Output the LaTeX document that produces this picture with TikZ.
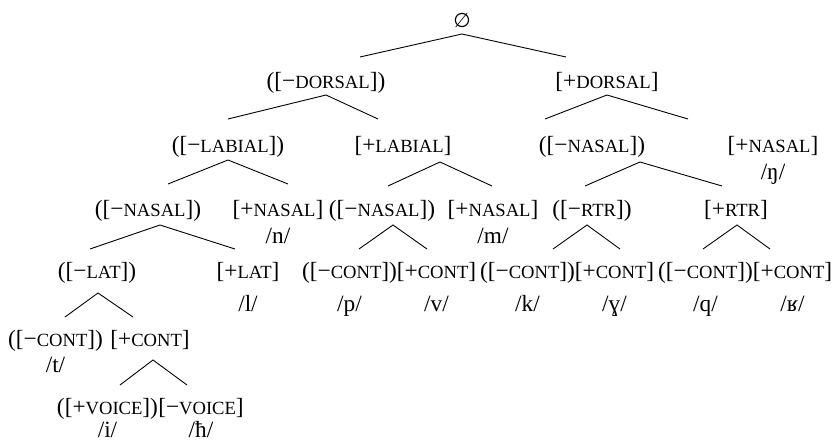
\documentclass[tikz,border=0pt]{standalone}
\usepackage{fontspec}
\setmainfont{Liberation Serif}
\newfontfamily\symf{DejaVu Sans}
\newcommand\fsc[1]{{\fontsize{18.6pt}{20pt}\selectfont #1}}
\begin{document}
\begin{tikzpicture}[x=1pt,y=-1pt,
  lbl/.style={anchor=base,inner sep=0pt,font=\fontsize{23.3pt}{28pt}\selectfont},
  br/.style={line width=0.9pt}]
\useasboundingbox (0,0) rectangle (836,442);
% labels (base = visual centre + 6)
\node[lbl] (root) at (462,27) {{\symf\fontsize{20pt}{22pt}\selectfont ∅}};
\node[lbl] (d1) at (326,88) {([−\fsc{DORSAL}])};
\node[lbl] (d2) at (607,88) {[+\fsc{DORSAL}]};
\node[lbl] (l1) at (228,152) {([−\fsc{LABIAL}])};
\node[lbl] (l2) at (403,152) {[+\fsc{LABIAL}]};
\node[lbl] (n3) at (592,152) {([−\fsc{NASAL}])};
\node[lbl] (n4) at (773,152) {[+\fsc{NASAL}]};
\node[lbl] (n4p) at (773,179) {/ŋ/};
\node[lbl] (n1) at (148,216) {([−\fsc{NASAL}])};
\node[lbl] (n2) at (278,216) {[+\fsc{NASAL}]};
\node[lbl] (n2p) at (278,243) {/n/};
\node[lbl] (n5) at (382,216) {([−\fsc{NASAL}])};
\node[lbl] (n6) at (493,216) {[+\fsc{NASAL}]};
\node[lbl] (n6p) at (493,243) {/m/};
\node[lbl] (r1) at (592,216) {([−\fsc{RTR}])};
\node[lbl] (r2) at (736,216) {[+\fsc{RTR}]};
\node[lbl] (t1) at (97,278) {([−\fsc{LAT}])};
\node[lbl] (t2) at (248,278) {[+\fsc{LAT}]};
\node[lbl] (t2p) at (248,311) {/l/};
\node[lbl] (c3) at (349.5,278) {([−\fsc{CONT}])};
\node[lbl] (c3p) at (349.5,311) {/p/};
\node[lbl] (c4) at (436.5,278) {[+\fsc{CONT}]};
\node[lbl] (c4p) at (436.5,311) {/v/};
\node[lbl] (c5) at (527.5,278) {([−\fsc{CONT}])};
\node[lbl] (c5p) at (527.5,311) {/k/};
\node[lbl] (c6) at (614.5,278) {[+\fsc{CONT}]};
\node[lbl] (c6p) at (614.5,311) {/ɣ/};
\node[lbl] (c7) at (705.5,278) {([−\fsc{CONT}])};
\node[lbl] (c7p) at (705.5,311) {/q/};
\node[lbl] (c8) at (792.5,278) {[+\fsc{CONT}]};
\node[lbl] (c8p) at (792.5,311) {/ʁ/};
\node[lbl] (c1) at (55.5,346) {([−\fsc{CONT}])};
\node[lbl] (c1p) at (55.5,372) {/t/};
\node[lbl] (c2) at (150,346) {[+\fsc{CONT}]};
\node[lbl] (v1) at (107.5,414) {([+\fsc{VOICE}])};
\node[lbl] (v1p) at (107.5,437) {/i/};
\node[lbl] (v2) at (201,414) {[−\fsc{VOICE}]};
\node[lbl] (v2p) at (201,437) {/ħ/};
% branch points
\coordinate (root-a) at (462,34); \coordinate (root-l) at (360,57); \coordinate (root-r) at (566,57);
\coordinate (d1-a) at (326,95); \coordinate (d1-l) at (228,119); \coordinate (d1-r) at (378,119);
\coordinate (d2-a) at (607,95); \coordinate (d2-l) at (545,119); \coordinate (d2-r) at (688,119);
\coordinate (l1-a) at (228,160); \coordinate (l1-l) at (168,184); \coordinate (l1-r) at (288,184);
\coordinate (l2-a) at (440,162); \coordinate (l2-l) at (388,186); \coordinate (l2-r) at (492,186);
\coordinate (n3-a) at (640,162); \coordinate (n3-l) at (585,186); \coordinate (n3-r) at (722,186);
\coordinate (n1-a) at (160,225); \coordinate (n1-l) at (90,249); \coordinate (n1-r) at (235,249);
\coordinate (n5-a) at (393,225); \coordinate (n5-l) at (359,249); \coordinate (n5-r) at (427,249);
\coordinate (r1-a) at (587,225); \coordinate (r1-l) at (553,249); \coordinate (r1-r) at (620,249);
\coordinate (r2-a) at (737,225); \coordinate (r2-l) at (703,249); \coordinate (r2-r) at (770,249);
\coordinate (t1-a) at (98,293); \coordinate (t1-l) at (65,317); \coordinate (t1-r) at (133,317);
\coordinate (c2-a) at (153,360); \coordinate (c2-l) at (120,385); \coordinate (c2-r) at (187,385);
\foreach \n in {root,d1,d2,l1,l2,n3,n1,n5,r1,r2,t1,c2}
  \draw[br] (\n-l) -- (\n-a) -- (\n-r);
\end{tikzpicture}
\end{document}
